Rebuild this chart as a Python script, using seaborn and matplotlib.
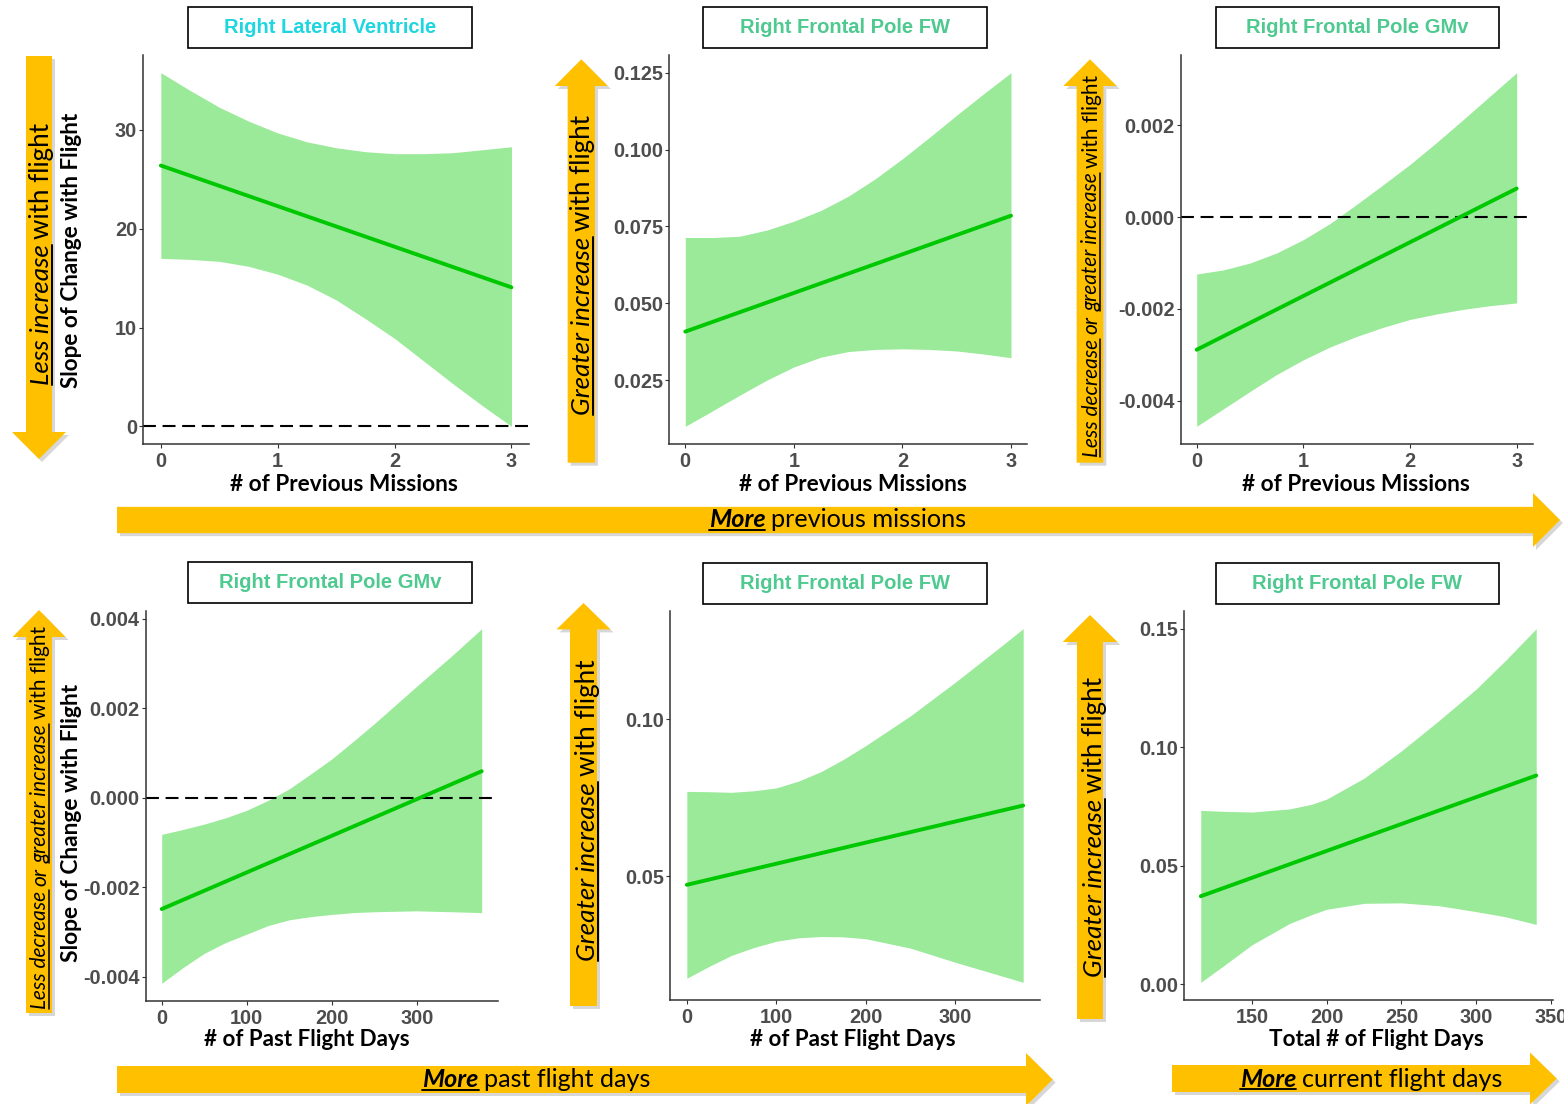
import numpy as np
import pandas as pd
import seaborn as sns

import matplotlib
matplotlib.use("Agg")
import matplotlib.pyplot as plt
from matplotlib.patches import Polygon, Rectangle
from matplotlib.lines import Line2D

# ---------------------------------------------------------------
# values
# ---------------------------------------------------------------
missions_x = [0, 0.25, 0.5, 0.75, 1, 1.25, 1.5, 1.75, 2, 2.25, 2.5, 2.75, 3]
missions_fit_x = [0, 3]
missions_ticks = [0, 1, 2, 3]

# Right Lateral Ventricle vs previous missions
lv_fit = [26.4, 14.07]
lv_upper = [35.8, 34.0, 32.3, 30.9, 29.7, 28.8, 28.2, 27.8, 27.6, 27.6, 27.7, 28.0, 28.3]
lv_lower = [17.0, 16.9, 16.7, 16.2, 15.4, 14.3, 12.8, 10.9, 8.9, 6.6, 4.3, 2.1, 0.0]
lv_yticks = [0, 10, 20, 30]

# Right Frontal Pole FW vs previous missions
fwm_fit = [0.0408, 0.0785]
fwm_upper = [0.0714, 0.0714, 0.0718, 0.0738, 0.0767, 0.0802, 0.0848, 0.0905, 0.0970,
             0.1040, 0.1112, 0.1182, 0.1250]
fwm_lower = [0.0100, 0.0150, 0.0201, 0.0250, 0.0293, 0.0325, 0.0343, 0.0350, 0.0352,
             0.0350, 0.0345, 0.0335, 0.0323]
fwm_yticks = [0.025, 0.050, 0.075, 0.100, 0.125]

# Right Frontal Pole GMv vs previous missions
gmm_fit = [-0.00289, 0.000625]
gmm_upper = [-0.00124, -0.00115, -0.00100, -0.00078, -0.00049, -0.00014, 0.00028,
             0.00071, 0.00115, 0.00163, 0.00213, 0.00264, 0.00315]
gmm_lower = [-0.00456, -0.00418, -0.00380, -0.00343, -0.00311, -0.00283, -0.00260,
             -0.00240, -0.00223, -0.00211, -0.00201, -0.00193, -0.00187]
gmm_yticks = [-0.004, -0.002, 0.000, 0.002]

# Right Frontal Pole GMv vs past flight days
past_x = [0, 25, 50, 75, 100, 125, 150, 175, 200, 225, 250, 275, 300, 340, 376]
past_fit_x = [0, 376]
past_ticks = [0, 100, 200, 300]
gmp_fit = [-0.00249, 0.000593]
gmp_upper = [-0.00082, -0.00071, -0.00059, -0.00045, -0.00028, -0.00006, 0.00020,
             0.00053, 0.00087, 0.00126, 0.00166, 0.00208, 0.00250, 0.00316, 0.00378]
gmp_lower = [-0.00415, -0.00380, -0.00348, -0.00324, -0.00305, -0.00286, -0.00273,
             -0.00266, -0.00261, -0.00257, -0.00255, -0.00254, -0.00253, -0.00255, -0.00257]
gmp_yticks = [-0.004, -0.002, 0.000, 0.002, 0.004]

# Right Frontal Pole FW vs past flight days
fwp_x = [0, 25, 50, 75, 100, 125, 150, 175, 200, 250, 300, 350, 376]
fwp_fit = [0.0472, 0.0725]
fwp_upper = [0.0770, 0.0769, 0.0767, 0.0772, 0.0781, 0.0803, 0.0833, 0.0872, 0.0916,
             0.1011, 0.1118, 0.1230, 0.1289]
fwp_lower = [0.0174, 0.0212, 0.0247, 0.0272, 0.0292, 0.0303, 0.0307, 0.0306, 0.0300,
             0.0270, 0.0225, 0.0183, 0.0161]
fwp_yticks = [0.05, 0.10]

# Right Frontal Pole FW vs total flight days
total_x = [115.5, 130, 150, 175, 190, 200, 225, 250, 275, 300, 320, 340.3]
total_fit_x = [115.5, 340.3]
total_ticks = [150, 200, 250, 300, 350]
fwt_fit = [0.0372, 0.0881]
fwt_upper = [0.0734, 0.0730, 0.0727, 0.0740, 0.0760, 0.0782, 0.0870, 0.0985, 0.1112,
             0.1245, 0.1368, 0.1500]
fwt_lower = [0.0009, 0.0075, 0.0168, 0.0257, 0.0295, 0.0317, 0.0342, 0.0344, 0.0332,
             0.0307, 0.0285, 0.0253]
fwt_yticks = [0.00, 0.05, 0.10, 0.15]

titles = ["Right Lateral Ventricle", "Right Frontal Pole FW", "Right Frontal Pole GMv",
          "Right Frontal Pole GMv", "Right Frontal Pole FW", "Right Frontal Pole FW"]
xlabels = ["# of Previous Missions", "# of Previous Missions", "# of Previous Missions",
           "# of Past Flight Days", "# of Past Flight Days", "Total # of Flight Days"]
ylabel = "Slope of Change with Flight"

# ---------------------------------------------------------------
# figure setup
# ---------------------------------------------------------------
W, H = 1564, 1104
sns.set_theme(style="ticks")
plt.rcParams["font.family"] = ["Liberation Sans", "DejaVu Sans"]

fig = plt.figure(figsize=(W / 100, H / 100), dpi=100)
fig.patch.set_facecolor("white")
renderer = fig.canvas.get_renderer()

BAND = "#9AEA9A"
LINE = "#00C800"
GOLD = "#FFC000"
TICK_COL = "#4D4D4D"
CYAN = "#1ED6DF"
GREEN_T = "#4EC98F"


def fx(x):
    return x / W


def fy(y):
    return 1 - y / H


def draw_poly(pts):
    shadow = [(fx(x + 3), fy(y + 3)) for x, y in pts]
    fig.add_artist(Polygon(shadow, closed=True, transform=fig.transFigure,
                           facecolor="#8f8f8f", edgecolor="none", alpha=0.35, zorder=0))
    main = [(fx(x), fy(y)) for x, y in pts]
    fig.add_artist(Polygon(main, closed=True, transform=fig.transFigure,
                           facecolor=GOLD, edgecolor="none", zorder=1))


def v_arrow(cx, shaft, head, tail, base, tip):
    s, h = shaft / 2, head / 2
    draw_poly([(cx - s, tail), (cx + s, tail), (cx + s, base), (cx + h, base),
               (cx, tip), (cx - h, base), (cx - s, base)])


def h_arrow(cy, shaft, head, tail, base, tip):
    s, h = shaft / 2, head / 2
    draw_poly([(tail, cy - s), (tail, cy + s), (base, cy + s), (base, cy + h),
               (tip, cy), (base, cy - h), (base, cy - s)])


def rich_text(parts, center, base, length, rot=0, family="Lato", color="black"):
    """parts: (text, weight, style, underline); fitted to a target length in px"""
    def lay(size):
        arts = []
        for s, weight, style, ul in parts:
            t = fig.text(0, 0, s, fontsize=size, family=family, fontweight=weight,
                         fontstyle=style, color=color, rotation=rot,
                         rotation_mode="anchor", ha="left", va="baseline", zorder=5)
            bb = t.get_window_extent(renderer)
            arts.append([t, bb.width if rot == 0 else bb.height, ul])
        return arts

    def total_len(arts, size):
        gap = 0.23 * size * 100 / 72
        return sum(a[1] for a in arts) + gap * (len(arts) - 1), gap

    arts = lay(10.0)
    tot, _ = total_len(arts, 10.0)
    for a in arts:
        a[0].remove()
    size = 10.0 * length / tot
    arts = lay(size)
    tot, gap = total_len(arts, size)
    off = 0.11 * size * 100 / 72
    pos = center - tot / 2 if rot == 0 else center + tot / 2
    for t, ln, ul in arts:
        if rot == 0:
            t.set_position((fx(pos), fy(base)))
            if ul:
                fig.add_artist(Line2D([fx(pos), fx(pos + ln)], [fy(base + off)] * 2,
                                      transform=fig.transFigure, color=color,
                                      lw=size * 0.075, zorder=5))
            pos += ln + gap
        else:
            t.set_position((fx(base), fy(pos)))
            if ul:
                fig.add_artist(Line2D([fx(base + off)] * 2, [fy(pos), fy(pos - ln)],
                                      transform=fig.transFigure, color=color,
                                      lw=size * 0.075, zorder=5))
            pos -= ln + gap


# ---------------------------------------------------------------
# panels
# ---------------------------------------------------------------
panels = [
    dict(rect=(143.3, 55, 529, 444), bx=missions_x, up=lv_upper, lo=lv_lower,
         fx_=missions_fit_x, fy_=lv_fit, xt=missions_ticks, yt=lv_yticks, fmt="{:.0f}",
         hline=True, box=(188, 7, 472, 48), tcol=CYAN),
    dict(rect=(669, 55, 1027.3, 444), bx=missions_x, up=fwm_upper, lo=fwm_lower,
         fx_=missions_fit_x, fy_=fwm_fit, xt=missions_ticks, yt=fwm_yticks, fmt="{:.3f}",
         hline=False, box=(703, 7, 987, 48), tcol=GREEN_T),
    dict(rect=(1180.7, 55, 1532.7, 444), bx=missions_x, up=gmm_upper, lo=gmm_lower,
         fx_=missions_fit_x, fy_=gmm_fit, xt=missions_ticks, yt=gmm_yticks, fmt="{:.3f}",
         hline=True, box=(1216, 7, 1499, 48), tcol=GREEN_T),
    dict(rect=(145.7, 611, 497.7, 1001), bx=past_x, up=gmp_upper, lo=gmp_lower,
         fx_=past_fit_x, fy_=gmp_fit, xt=past_ticks, yt=gmp_yticks, fmt="{:.3f}",
         hline=True, box=(188, 562, 472, 603), tcol=GREEN_T),
    dict(rect=(670, 611, 1040, 1000), bx=fwp_x, up=fwp_upper, lo=fwp_lower,
         fx_=past_fit_x, fy_=fwp_fit, xt=past_ticks, yt=fwp_yticks, fmt="{:.2f}",
         hline=False, box=(703, 563, 987, 604), tcol=GREEN_T),
    dict(rect=(1184, 611, 1553, 1000), bx=total_x, up=fwt_upper, lo=fwt_lower,
         fx_=total_fit_x, fy_=fwt_fit, xt=total_ticks, yt=fwt_yticks, fmt="{:.2f}",
         hline=False, box=(1216, 563, 1499, 604), tcol=GREEN_T),
]

for i, p in enumerate(panels):
    l, t, r, b = p["rect"]
    ax = fig.add_axes([fx(l), fy(b), (r - l) / W, (b - t) / H])
    ax.set_facecolor("white")

    ax.fill_between(p["bx"], p["lo"], p["up"], color=BAND, linewidth=0, zorder=1)
    if p["hline"]:
        ax.axhline(0, color="black", lw=1.5, linestyle=(0, (6.2, 3.2)), zorder=2)
    line_df = pd.DataFrame({"x": p["fx_"], "y": p["fy_"]})
    sns.lineplot(data=line_df, x="x", y="y", ax=ax, color=LINE, linewidth=2.8, zorder=3)

    # ggplot-like 5% expansion of the data range
    x0, x1 = min(p["bx"]), max(p["bx"])
    ys = list(p["lo"]) + list(p["up"]) + ([0] if p["hline"] else [])
    y0, y1 = min(ys), max(ys)
    ax.set_xlim(x0 - 0.05 * (x1 - x0), x1 + 0.05 * (x1 - x0))
    ax.set_ylim(y0 - 0.05 * (y1 - y0), y1 + 0.05 * (y1 - y0))

    ax.set_xticks(p["xt"])
    ax.set_xticklabels([str(v) for v in p["xt"]])
    ax.set_yticks(p["yt"])
    ax.set_yticklabels([p["fmt"].format(v).replace("-0.000", "0.000") for v in p["yt"]])
    for lab in ax.get_xticklabels() + ax.get_yticklabels():
        lab.set_fontweight("bold")
        lab.set_fontsize(14.3)
        lab.set_color(TICK_COL)
        lab.set_family(["Liberation Sans", "DejaVu Sans"])
        lab.set_clip_on(False)
    ax.tick_params(length=3, width=0.8, color="#333333", pad=1.5)
    ax.tick_params(axis="x", pad=3)
    ax.set_xlabel("")
    ax.set_ylabel("")
    sns.despine(ax=ax)
    for side in ["left", "bottom"]:
        ax.spines[side].set_color("#333333")
        ax.spines[side].set_linewidth(1.1)

    # title box
    bl, bt, br, bb = p["box"]
    fig.add_artist(Rectangle((fx(bl), fy(bb)), (br - bl) / W, (bb - bt) / H,
                             transform=fig.transFigure, facecolor="white",
                             edgecolor="black", lw=1.2, zorder=4))
    fig.text(fx((bl + br) / 2), fy((bt + bb) / 2), titles[i], ha="center", va="center",
             fontsize=14.5, fontweight="bold", color=p["tcol"],
             family=["Liberation Sans", "DejaVu Sans"], zorder=5)

# ---------------------------------------------------------------
# yellow arrows and their texts
# ---------------------------------------------------------------
v_arrow(39, 26, 54, 56, 432, 459)
v_arrow(581.3, 27.3, 53, 462.7, 86, 59.3)
v_arrow(1090, 26.7, 53.4, 462.7, 86, 59.3)
v_arrow(39, 26, 53, 1013, 637, 610)
v_arrow(583.5, 27, 54, 1006, 629.4, 603)
v_arrow(1090, 26, 54.7, 1019, 642, 615)

h_arrow(520, 26.3, 54, 117, 1533, 1560)
h_arrow(1079.5, 27, 53, 117, 1026, 1052.7)
h_arrow(1078.5, 27, 52, 1172, 1530, 1556.7)

less_inc = [("Less increase", "normal", "italic", True), ("with flight", "normal", "normal", False)]
greater_inc = [("Greater increase", "normal", "italic", True), ("with flight", "normal", "normal", False)]
less_dec = [("Less decrease", "normal", "italic", True), ("or", "normal", "italic", False),
            ("greater increase", "normal", "italic", True), ("with flight", "normal", "normal", False)]

rich_text(less_inc, 254, 49, 262, rot=90)
rich_text(greater_inc, 265, 590, 300, rot=90)
rich_text(less_dec, 265.8, 1097.7, 381.7, rot=90)
rich_text(less_dec, 817.3, 46.5, 382.8, rot=90)
rich_text(greater_inc, 810.2, 595, 301.6, rot=90)
rich_text(greater_inc, 827, 1101.7, 300, rot=90)

rich_text([("More", "bold", "italic", True), ("previous missions", "normal", "normal", False)],
          837.5, 527, 259)
rich_text([("More", "bold", "italic", True), ("past flight days", "normal", "normal", False)],
          536.5, 1087, 229)
rich_text([("More", "bold", "italic", True), ("current flight days", "normal", "normal", False)],
          1371.3, 1086.7, 262.7)

# axis titles
xlabel_pos = [(343.7, 490.7, 227.3), (853, 490.7, 227.4), (1356.3, 490.7, 227.3),
              (306.7, 1046, 205.3), (853.3, 1046, 205.3), (1376.7, 1046, 214.7)]
for lab, (cx, base, ln) in zip(xlabels, xlabel_pos):
    rich_text([(lab, "bold", "normal", False)], cx, base, ln)

rich_text([(ylabel, "bold", "normal", False)], 250, 78, 276.3, rot=90)
rich_text([(ylabel, "bold", "normal", False)], 823.4, 78, 278.8, rot=90)

fig.savefig("out.png", dpi=100, facecolor="white")
